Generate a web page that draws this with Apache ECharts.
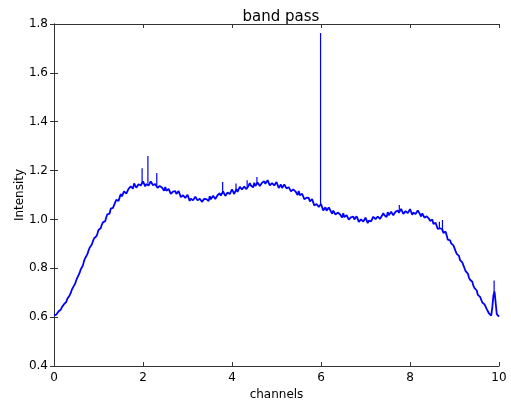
<!DOCTYPE html>
<html>
<head>
<meta charset="utf-8">
<script src="https://cdn.jsdelivr.net/npm/echarts@6/dist/echarts.min.js"></script>
<style>html,body{margin:0;padding:0;background:#fff;}#c{width:511px;height:406px;}</style>
</head>
<body>
<div id="c"></div>
<script>
// channel spacing of the sampled intensity values (x from 0 to 10)
const channelStep = 0.05;
// intensity at x = i * channelStep
const intensity = [
  0.607,0.610,0.623,0.630,0.647,0.654,0.675,0.689,0.712,0.726,
  0.751,0.768,0.795,0.812,0.841,0.858,0.884,0.897,0.922,0.931,
  0.957,0.964,0.988,0.993,1.021,1.024,1.052,1.054,1.080,1.076,
  1.104,1.096,1.116,1.108,1.132,1.127,1.147,1.130,1.144,1.139,
  1.156,1.135,1.152,1.142,1.152,1.132,1.142,1.128,1.143,1.123,
  1.133,1.112,1.120,1.102,1.117,1.104,1.116,1.091,1.099,1.088,
  1.101,1.076,1.091,1.080,1.090,1.071,1.083,1.073,1.092,1.078,
  1.095,1.081,1.096,1.084,1.105,1.098,1.115,1.096,1.110,1.104,
  1.123,1.104,1.124,1.118,1.133,1.118,1.134,1.127,1.148,1.134,
  1.150,1.135,1.149,1.136,1.155,1.146,1.161,1.139,1.149,1.139,
  1.153,1.129,1.143,1.131,1.140,1.119,1.128,1.114,1.128,1.107,
  1.116,1.093,1.099,1.078,1.090,1.074,1.083,1.057,1.063,1.051,
  1.063,1.037,1.050,1.037,1.045,1.023,1.033,1.019,1.033,1.014,
  1.025,1.005,1.014,0.996,1.012,1.000,1.013,0.990,1.000,0.991,
  1.007,0.985,1.003,0.996,1.011,0.996,1.012,1.005,1.026,1.013,
  1.030,1.015,1.029,1.016,1.036,1.027,1.043,1.023,1.034,1.026,
  1.042,1.019,1.035,1.024,1.034,1.012,1.021,1.005,1.017,0.994,
  1.000,0.975,0.979,0.955,0.964,0.945,0.950,0.917,0.914,0.894,
  0.887,0.859,0.851,0.826,0.816,0.788,0.778,0.753,0.745,0.719,
  0.709,0.683,0.676,0.653,0.648,0.624,0.610,0.640,0.705,0.612,
  0.602
];
const intensityMid = [
  0.607,0.618,0.623,0.640,0.653,0.662,0.683,0.698,0.721,0.737,
  0.762,0.781,0.802,0.830,0.848,0.872,0.887,0.911,0.928,0.941,
  0.958,0.979,0.987,1.009,1.018,1.044,1.047,1.070,1.084,1.084,
  1.094,1.115,1.106,1.125,1.135,1.126,1.139,1.130,1.149,1.141,
  1.155,1.145,1.139,1.155,1.140,1.145,1.129,1.137,1.131,1.117,
  1.117,1.125,1.105,1.114,1.116,1.099,1.104,1.088,1.101,1.088,
  1.098,1.085,1.078,1.093,1.078,1.085,1.072,1.084,1.083,1.075,
  1.082,1.097,1.084,1.099,1.107,1.096,1.106,1.096,1.115,1.107,
  1.123,1.115,1.113,1.133,1.123,1.134,1.124,1.139,1.139,1.131,
  1.137,1.151,1.137,1.150,1.156,1.143,1.150,1.137,1.152,1.140,
  1.151,1.137,1.129,1.143,1.127,1.132,1.115,1.123,1.115,1.100,
  1.099,1.105,1.083,1.089,1.088,1.068,1.070,1.053,1.065,1.051,
  1.060,1.045,1.036,1.049,1.032,1.036,1.020,1.028,1.021,1.008,
  1.009,1.018,0.999,1.009,1.012,0.996,1.002,0.988,1.003,0.993,
  1.006,0.995,0.992,1.011,1.001,1.012,1.002,1.017,1.017,1.010,
  1.017,1.031,1.017,1.031,1.037,1.024,1.033,1.022,1.038,1.028,
  1.040,1.028,1.022,1.037,1.021,1.025,1.007,1.013,1.003,0.986,
  0.982,0.986,0.961,0.964,0.960,0.937,0.934,0.909,0.902,0.894,
  0.870,0.859,0.833,0.824,0.800,0.789,0.762,0.752,0.728,0.718,
  0.691,0.683,0.660,0.652,0.633,0.615,0.606,0.690,0.700,0.604
];
// narrow spikes: [channel, base intensity, peak intensity]
const spikes = [
  [1.98, 1.145, 1.21],
  [2.11, 1.147, 1.26],
  [2.31, 1.139, 1.19],
  [3.79, 1.105, 1.153],
  [4.09, 1.120, 1.147],
  [4.34, 1.134, 1.16],
  [4.56, 1.143, 1.174],
  [5.99, 1.055, 1.763],
  [7.76, 1.030, 1.059],
  [8.66, 0.966, 0.99],
  [8.73, 0.950, 0.998],
  [9.89, 0.700, 0.75]
];
const xTicks = [0, 2, 4, 6, 8, 10];
const yTicks = [0.4, 0.6, 0.8, 1.0, 1.2, 1.4, 1.6, 1.8];

const curve = [];
intensity.forEach((v, i) => {
  curve.push([+(i * channelStep).toFixed(3), v]);
  if (i < intensityMid.length) curve.push([+((i + 0.5) * channelStep).toFixed(3), intensityMid[i]]);
});
const spikeData = [];
spikes.forEach(([x, b, p]) => { spikeData.push([x, b], [x, p], '-'); });

const font = 'DejaVu Sans';
const axisColor = '#333';
const common = {
  axisLine: { show: true, lineStyle: { color: axisColor, width: 1 } },
  axisTick: { show: true, inside: true, length: 4, lineStyle: { color: axisColor } },
  splitLine: { show: false }
};
const chart = echarts.init(document.getElementById('c'), null, { renderer: 'canvas' });
chart.setOption({
  animation: false,
  backgroundColor: '#fff',
  title: {
    text: 'band pass', left: 276, top: 5, textAlign: 'center',
    textStyle: { fontFamily: font, fontSize: 15, fontWeight: 'normal', color: '#000' }
  },
  grid: { left: 54, right: 12, top: 24, bottom: 37, containLabel: false },
  xAxis: [
    Object.assign({
      type: 'value', min: xTicks[0], max: xTicks[xTicks.length - 1], interval: 2,
      position: 'bottom',
      name: 'channels', nameLocation: 'middle', nameGap: 23, nameMoveOverlap: false,
      nameTextStyle: { fontFamily: font, fontSize: 12, color: '#000' },
      axisLabel: { fontFamily: font, fontSize: 12, color: '#000', margin: 6 }
    }, common),
    Object.assign({
      type: 'value', min: xTicks[0], max: xTicks[xTicks.length - 1], interval: 2,
      position: 'top', axisLabel: { show: false }
    }, common)
  ],
  yAxis: [
    Object.assign({
      type: 'value', min: yTicks[0], max: yTicks[yTicks.length - 1], interval: 0.2,
      position: 'left',
      name: 'Intensity', nameLocation: 'middle', nameGap: 28, nameRotate: 90, nameMoveOverlap: false,
      nameTextStyle: { fontFamily: font, fontSize: 12, color: '#000' },
      axisLabel: { fontFamily: font, fontSize: 12, color: '#000', margin: 6,
        formatter: v => v.toFixed(1) }
    }, common),
    Object.assign({
      type: 'value', min: yTicks[0], max: yTicks[yTicks.length - 1], interval: 0.2,
      position: 'right', axisLabel: { show: false }
    }, common)
  ],
  series: [{
    type: 'line', data: curve, xAxisIndex: 0, yAxisIndex: 0,
    showSymbol: false, symbol: 'none',
    lineStyle: { color: '#0000ff', width: 1.8 },
    itemStyle: { color: '#0000ff' }
  }, {
    type: 'line', data: spikeData, xAxisIndex: 0, yAxisIndex: 0,
    showSymbol: false, symbol: 'none', connectNulls: false,
    lineStyle: { color: '#0000ff', width: 1.2 },
    itemStyle: { color: '#0000ff' }
  }]
});
</script>
</body>
</html>
